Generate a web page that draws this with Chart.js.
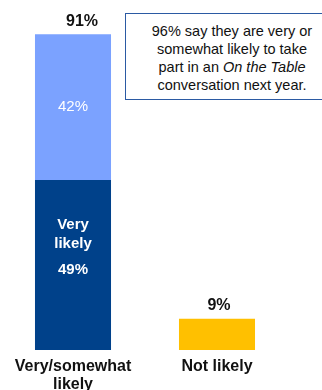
<!DOCTYPE html>
<html>
<head>
<meta charset="utf-8">
<script src="https://cdn.jsdelivr.net/npm/chart.js@4"></script>
<style>
    html, body { margin: 0; padding: 0; background: #fff; }
    #wrap { position: relative; width: 322px; height: 390px; overflow: hidden; }
    #note {
        position: absolute; left: 125px; top: 13px; width: 184px; height: 77px;
        border: 1px solid #2b5aa3; border-right: none; background: #fff;
        padding: 8px 0 0 14px;
        font-family: "Liberation Sans", Arial, sans-serif; font-size: 14.5px; line-height: 18px;
        color: #111; text-align: center; white-space: nowrap;
    }
</style>
</head>
<body>
<div id="wrap">
    <canvas id="likelyChart" width="322" height="390"></canvas>
    <div id="note">96% say they are very or<br>somewhat likely to take<br>part in an <i>On the Table</i><br>conversation next year.</div>
</div>
<script>
// Categories and series values (percent)
const categories = [['Very/somewhat', 'likely'], 'Not likely'];
const veryLikely = [49, null];
const somewhatLikely = [42, null];
const notLikely = [null, 9];

const FONT = '"Liberation Sans", Arial, sans-serif';

// Draws the percentages inside and above the bars
const barLabels = {
    id: 'barLabels',
    afterDatasetsDraw(chart) {
        const ctx = chart.ctx;
        ctx.save();
        ctx.textAlign = 'center';
        ctx.textBaseline = 'middle';

        // Very likely segment
        const vEl = chart.getDatasetMeta(0).data[0];
        ctx.fillStyle = '#fff';
        ctx.font = 'bold 15px ' + FONT;
        ctx.fillText('Very', vEl.x, vEl.y + 45);
        ctx.fillText('likely', vEl.x, vEl.y + 64);
        ctx.fillText(veryLikely[0] + '%', vEl.x, vEl.y + 90);

        // Somewhat likely segment
        const sEl = chart.getDatasetMeta(1).data[0];
        ctx.font = '15px ' + FONT;
        ctx.fillText(somewhatLikely[0] + '%', sEl.x, (sEl.y + sEl.base) / 2);

        // Totals above the bars
        ctx.fillStyle = '#111';
        ctx.font = 'bold 16px ' + FONT;
        const total = veryLikely[0] + somewhatLikely[0];
        ctx.fillText(total + '%', sEl.x + 9, sEl.y - 13);
        const nEl = chart.getDatasetMeta(2).data[1];
        ctx.fillText(notLikely[1] + '%', nEl.x + 2, nEl.y - 13);
        ctx.restore();
    }
};

new Chart(document.getElementById('likelyChart'), {
    type: 'bar',
    data: {
        labels: categories,
        datasets: [
            { label: 'Very likely', data: veryLikely, backgroundColor: '#00418a' },
            { label: 'Somewhat likely', data: somewhatLikely, backgroundColor: '#7ba2ff' },
            { label: 'Not likely', data: notLikely, backgroundColor: '#ffc000' }
        ]
    },
    options: {
        responsive: false,
        animation: false,
        barPercentage: 0.528,
        categoryPercentage: 1,
        layout: { padding: { left: 1, right: 33, top: 3, bottom: -12 } },
        scales: {
            x: {
                stacked: true,
                grid: { display: false, drawTicks: false },
                border: { display: false },
                ticks: {
                    color: '#111',
                    padding: 8,
                    maxRotation: 0,
                    font: { family: FONT, size: 16, weight: 'bold', lineHeight: '18px' }
                }
            },
            y: {
                stacked: true,
                display: false,
                min: 0,
                max: 100
            }
        },
        plugins: {
            legend: { display: false },
            tooltip: { enabled: false }
        }
    },
    plugins: [barLabels]
});
</script>
</body>
</html>
